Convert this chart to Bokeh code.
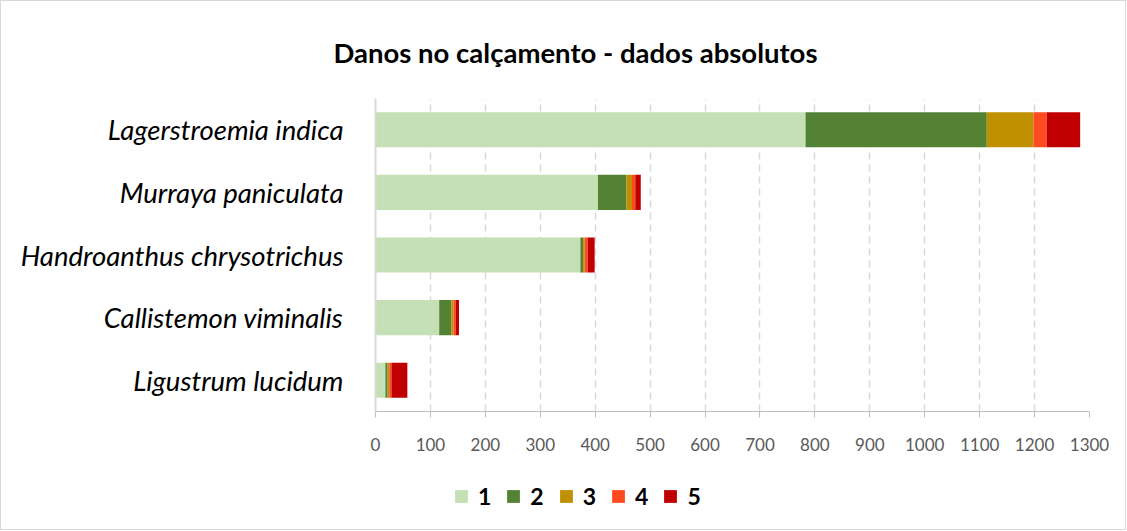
from bokeh.plotting import figure
from bokeh.layouts import column
from bokeh.models import ColumnDataSource, FactorRange, Legend, LegendItem, FixedTicker, Range1d
from bokeh.embed import file_html
from bokeh.resources import INLINE

species = ["Lagerstroemia indica", "Murraya paniculata", "Handroanthus chrysotrichus",
           "Callistemon viminalis", "Ligustrum lucidum"]
s1 = [783, 405, 373, 116, 18]
s2 = [330, 52, 5, 22, 4]
s3 = [85, 10, 3, 4, 3]
s4 = [24, 6, 5, 4, 4]
s5 = [61, 10, 13, 6, 29]
series_names = ["1", "2", "3", "4", "5"]
colors = ["#C5E0B4", "#548235", "#BF9000", "#FF4B1F", "#C00000"]
x_ticks = list(range(0, 1301, 100))

src = ColumnDataSource(dict(sp=species, **{"v" + n: v for n, v in zip(series_names, [s1, s2, s3, s4, s5])}))
cols = ["v" + n for n in series_names]

W = 1124
p = figure(width=W, height=455, output_backend="svg", toolbar_location=None,
           y_range=FactorRange(*list(reversed(species))), x_range=(0, 1300),
           min_border_left=374, min_border_right=W - 1088, min_border_top=97, min_border_bottom=45,
           title="Danos no calçamento - dados absolutos")
p.outline_line_color = None
p.title.align = "left"
p.title.offset = -42
p.title.standoff = 60
p.title.text_font = "Lato"
p.title.text_font_size = "27.5px"
p.title.text_font_style = "bold"
p.title.text_color = "#000000"

rs = p.hbar_stack(cols, y="sp", height=0.56, color=colors, line_color=None, source=src)

p.xaxis.ticker = FixedTicker(ticks=x_ticks)
p.xaxis.axis_line_color = "#bfbfbf"
p.xaxis.major_tick_line_color = "#bfbfbf"
p.xaxis.major_tick_out = 6
p.xaxis.major_tick_in = 0
p.xaxis.minor_tick_line_color = None
p.xaxis.major_label_text_font = "Lato"
p.xaxis.major_label_text_font_size = "17px"
p.xaxis.major_label_text_color = "#595959"
p.xaxis.major_label_standoff = 20

p.yaxis.axis_line_color = "#d9d9d9"
p.yaxis.axis_line_width = 2
p.yaxis.major_tick_line_color = None
p.yaxis.minor_tick_line_color = None
p.yaxis.major_label_text_font = "Lato"
p.yaxis.major_label_text_font_style = "italic"
p.yaxis.major_label_text_font_size = "27.5px"
p.yaxis.major_label_text_color = "#000000"
p.yaxis.major_label_standoff = 26

p.ygrid.grid_line_color = None
p.xgrid.grid_line_color = "#d9d9d9"
p.xgrid.grid_line_width = 1.5
p.xgrid.grid_line_dash = "7 5"

# legend-only figure: swatch renderers in the series colours, kept outside the visible range
lg = figure(width=W, height=73, output_backend="svg", toolbar_location=None,
            x_range=Range1d(0, 1), y_range=Range1d(0, 1),
            min_border=0, outline_line_color=None)
lg.axis.visible = False
lg.xgrid.grid_line_color = None
lg.ygrid.grid_line_color = None
lrs = [lg.hbar(y=[-10], left=[-10], right=[-9], height=0.5, color=c, line_color=None) for c in colors]
legend = Legend(items=[LegendItem(label=n, renderers=[r]) for n, r in zip(series_names, lrs)],
                orientation="horizontal", location=(78, 19))
legend.label_text_font = "Lato"
legend.label_text_font_style = "bold"
legend.label_text_font_size = "23px"
legend.label_text_color = "#000000"
legend.label_standoff = 9
legend.label_width = 12
legend.glyph_width = 16
legend.glyph_height = 16
legend.spacing = 14
legend.padding = 0
legend.margin = 0
legend.border_line_color = None
legend.background_fill_alpha = 0
lg.add_layout(legend)

layout = column(p, lg, spacing=0, styles={"border": "1px solid #d9d9d9"})
open("out.html", "w").write(file_html(layout, INLINE))
